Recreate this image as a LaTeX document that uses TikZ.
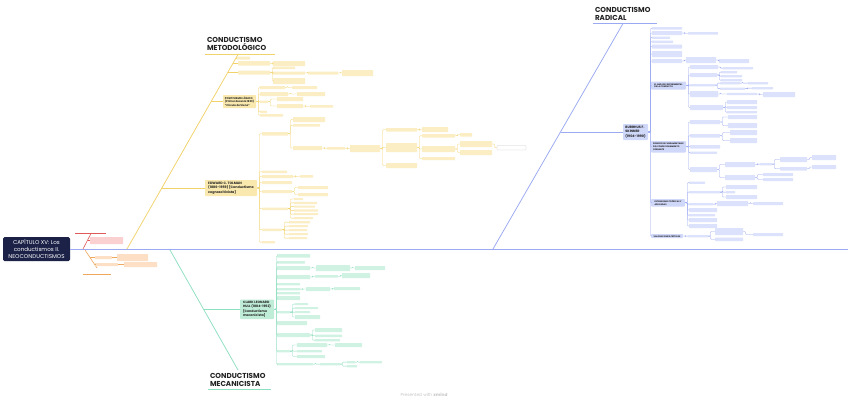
\documentclass[tikz,border=0pt]{standalone}
\usepackage{fontspec}
\setmainfont{Poppins}
\definecolor{navy}{HTML}{1C2147}
\definecolor{bline}{HTML}{9AA9F2}
\definecolor{bfill}{HTML}{DCE2FB}
\definecolor{bfill2}{HTML}{D0D8FA}
\definecolor{yline}{HTML}{F2D26A}
\definecolor{yfill}{HTML}{FBEEC4}
\definecolor{yfill2}{HTML}{FAE9AE}
\definecolor{tline}{HTML}{8EDFC0}
\definecolor{tfill}{HTML}{D0F2E3}
\definecolor{tfill2}{HTML}{C0EDD8}
\definecolor{rline}{HTML}{E05A5A}
\definecolor{rfill}{HTML}{FAD0D0}
\definecolor{oline}{HTML}{F0A85E}
\definecolor{ofill}{HTML}{FCDFC4}
\definecolor{ink}{HTML}{222222}
\tikzset{
 bxs/.style={rectangle,inner sep=0pt,outer sep=0pt,rounded corners=0.5pt},
 yl/.style={bxs,fill=yfill},
 tl/.style={bxs,fill=tfill},
 bl/.style={bxs,fill=bfill},
 wl/.style={bxs,fill=white,draw=gray!40,line width=0.2pt},
 pkl/.style={bxs,fill=rfill},
 orl/.style={bxs,fill=ofill},
 topic/.style={bxs,rounded corners=0.8pt,align=left,text=ink,font=\bfseries\fontsize{3.3}{4.3}\selectfont},
 ytop/.style={topic,fill=yfill2},
 ttop/.style={topic,fill=tfill2},
 btop/.style={topic,fill=bfill2},
 bsub/.style={topic,fill=bfill2,font=\bfseries\fontsize{2.1}{2.8}\selectfont},
 ttl/.style={inner sep=0pt,outer sep=0pt,anchor=north west,align=left,text=ink,font=\bfseries\fontsize{7.2}{8}\selectfont},
 rootbox/.style={rectangle,inner sep=0pt,outer sep=0pt,rounded corners=1.5pt,fill=navy,text=white,align=center,font=\fontsize{5.6}{6.8}\selectfont},
 ylk/.style={draw=yline,line width=0.4pt,rounded corners=0.8pt},
 tlk/.style={draw=tline,line width=0.4pt,rounded corners=0.8pt},
 blk/.style={draw=bline,line width=0.4pt,rounded corners=0.8pt},
 rlk/.style={draw=rline,line width=0.4pt},
 olk/.style={draw=oline,line width=0.4pt},
 ymain/.style={draw=yline,line width=0.75pt},
 tmain/.style={draw=tline,line width=0.75pt},
 bmain/.style={draw=bline,line width=0.75pt},
 rmain/.style={draw=rline,line width=0.6pt},
 omain/.style={draw=oline,line width=0.6pt},
 yul/.style={draw=yline,line width=1.1pt},
 tul/.style={draw=tline,line width=1.1pt},
 bul/.style={draw=bline,line width=1.1pt},
 rul/.style={draw=rline,line width=0.9pt},
 oul/.style={draw=oline,line width=0.9pt}
}
\newcommand\mbx[6]{\node[#1,minimum width={(#5-#3)*1pt},minimum height={(#6-#4)*1pt}] (#2) at ({(#3+#5)/2},{(#4+#6)/2}) {};}
\newcommand\mtx[7]{\node[#1,minimum width={(#5-#3)*1pt},minimum height={(#6-#4)*1pt}] (#2) at ({(#3+#5)/2},{(#4+#6)/2}) {#7};}
\newcommand\mlks[3]{\foreach \cc in {#3}{\draw[#1] (#2.east) -- ++(2.5,0) |- (\cc.west);}}
\begin{document}
\begin{tikzpicture}[x=1pt,y=-1pt]
\fill[white] (0,0) rectangle (848,405);
\useasboundingbox (0,0) rectangle (848,405);

% ---------- root ----------
\mtx{rootbox}{root}{3}{237}{70}{261}{CAPÍTULO XV: Los\\conductismos II.\\NEOCONDUCTISMOS}
\coordinate (bEnd) at (848,249);
\draw[bmain] (root.east) -- (bEnd);

% ---------- red / orange ----------
\coordinate (rS) at (83,249); \coordinate (rE) at (91,233.5);
\draw[rmain] (rS) -- (rE);
\coordinate (rU1) at (75,233.5); \coordinate (rU2) at (106,233.5);
\draw[rul] (rU1) -- (rU2);
\mbx{pkl}{pink}{90}{237}{123}{244}
\coordinate (rH) at (87.7,240.5);
\draw[rlk] (rH) -- (pink.west);

\coordinate (oS) at (85,250); \coordinate (oE) at (97,268);
\draw[omain] (oS) -- (oE);
\coordinate (oU1) at (83,274); \coordinate (oU2) at (111,274);
\draw[oul] (oU1) -- (oU2);
\mbx{orl}{oa}{95}{256}{112}{259}
\mbx{orl}{oaa}{117}{254}{148}{261}
\mbx{orl}{ob}{95}{263}{118}{266}
\mbx{orl}{oba}{124}{262}{157}{267}
\coordinate (oH1) at (90,257.5); \coordinate (oH2) at (94.5,264.5);
\draw[olk] (oH1) -- (oa.west); \draw[olk] (oH2) -- (ob.west);
\mlks{olk}{oa}{oaa}
\mlks{olk}{ob}{oba}

% ---------- yellow: CONDUCTISMO METODOLOGICO ----------
\coordinate (yS) at (127,249); \coordinate (yE) at (238,54.5);
\draw[ymain] (yS) -- (yE);
\node[ttl] (tMet) at (207,37) {CONDUCTISMO\\METODOLÓGICO};
\coordinate (yU1) at (205,54.5); \coordinate (yU2) at (275,54.5);
\draw[yul] (yU1) -- (yU2);

\mbx{yl}{ya}{237}{56.5}{250}{59.5}
\mbx{yl}{yb}{238}{61}{270}{65.5}
\mbx{yl}{yc}{273}{61}{305}{66}
\mbx{yl}{yd}{238}{70.5}{270}{74.5}
\mbx{yl}{ye}{273}{66.5}{295}{69}
\mbx{yl}{yf}{273}{71.5}{305}{74.5}
\mbx{yl}{yg}{308}{71.5}{338}{74.5}
\mbx{yl}{yh}{342}{70}{373}{76}
\mbx{yl}{yi}{273}{78}{305}{84}
\coordinate (yHa) at (236.3,58); \coordinate (yHb) at (233.3,63.25); \coordinate (yHd) at (228,72.5);
\draw[ylk] (yHa) -- (ya.west); \draw[ylk] (yHb) -- (yb.west); \draw[ylk] (yHd) -- (yd.west);
\mlks{ylk}{yb}{yc}
\mlks{ylk}{yd}{ye,yf,yi}
\mlks{ylk}{yf}{yg}
\mlks{ylk}{yg}{yh}

\mtx{ytop,font=\bfseries\fontsize{2.6}{3.3}\selectfont}{pos}{223}{95}{256}{108}{POSITIVISMO LÓGICO\\(Primer decenio 1930)\\“Círculo de Viena”}
\coordinate (yHp) at (211.4,101.5);
\draw[ylk] (yHp) -- (pos.west);
\mbx{yl}{pk}{260}{86}{285}{89}
\mbx{yl}{pl}{292}{86}{317}{89}
\mbx{yl}{pm}{260}{92}{288}{96}
\mbx{yl}{pn}{297}{92}{325}{96}
\mbx{yl}{po}{260}{100.5}{268}{103}
\mbx{yl}{pp}{277}{97}{303}{101}
\mbx{yl}{pq}{277}{104}{303}{108}
\mbx{yl}{pr}{310}{105}{333}{107.5}
\mbx{yl}{ps}{260}{110.5}{267}{113}
\mbx{yl}{pt}{260}{114}{283}{116.5}
\mlks{ylk}{pos}{pk,pm,po,ps,pt}
\mlks{ylk}{pk}{pl}
\mlks{ylk}{pm}{pn}
\mlks{ylk}{po}{pp,pq}
\mlks{ylk}{pq}{pr}

\mtx{ytop}{tol}{205}{180}{257}{196}{EDWARD C. TOLMAN\\(1886-1959) [Conductismo\\cognoscitivista]}
\coordinate (yHt) at (161.9,188);
\draw[ylk] (yHt) -- (tol.west);
\mbx{yl}{t0}{262}{132}{288}{135.5}
\mbx{yl}{t0a}{293}{117}{325}{122}
\mbx{yl}{t0b}{293}{124}{320}{126.5}
\mbx{yl}{t0c}{293}{146}{322}{150}
\mbx{yl}{t0d}{327}{147}{345}{149.5}
\mbx{yl}{t0e}{350}{145}{380}{152}
\mbx{yl}{t0f}{386}{128}{417}{131.5}
\mbx{yl}{t0g}{422}{127}{448}{132}
\mbx{yl}{t0h}{386}{143}{417}{152}
\mbx{yl}{t0i}{422}{134}{455}{137.5}
\mbx{yl}{t0j}{460}{133}{472}{136.5}
\mbx{yl}{t0k}{422}{146}{455}{152}
\mbx{yl}{t0l}{460}{141}{492}{147}
\mbx{wl}{t0w}{497}{145.5}{526}{150}
\mbx{yl}{t0m}{460}{150}{492}{155}
\mbx{yl}{t0n}{422}{157}{455}{160}
\mbx{yl}{t0o}{386}{163}{417}{168}
\mbx{yl}{t1}{262}{170.5}{287}{173}
\mbx{yl}{t2}{262}{175}{293}{178}
\mbx{yl}{t2a}{300}{175}{313}{177.5}
\mbx{yl}{t3}{262}{181}{292}{184}
\mbx{yl}{t4}{262}{190}{292}{193}
\mbx{yl}{t4a}{298}{186}{328}{189}
\mbx{yl}{t4b}{298}{193}{328}{196}
\mbx{yl}{t5}{262}{207.5}{288}{210}
\mbx{yl}{t5a}{294}{198}{303}{200}
\mbx{yl}{t5b}{294}{201.8}{317}{204}
\mbx{yl}{t5c}{294}{205.5}{315}{207.7}
\mbx{yl}{t5d}{294}{209.3}{318}{211.5}
\mbx{yl}{t5e}{294}{213}{318}{215.2}
\mbx{yl}{t5f}{294}{217}{313}{219.2}
\mbx{yl}{t6}{262}{228.5}{282}{231}
\mbx{yl}{t6a}{289}{221}{310}{223.3}
\mbx{yl}{t6b}{289}{225}{308}{227.2}
\mbx{yl}{t6c}{289}{229}{307}{231.2}
\mbx{yl}{t6d}{289}{233}{308}{235.2}
\mbx{yl}{t6e}{289}{237}{307}{239.2}
\mbx{yl}{t7}{262}{241}{275}{243.3}
\mlks{ylk}{tol}{t0,t1,t2,t3,t4,t5,t6,t7}
\mlks{ylk}{t0}{t0a,t0b,t0c}
\mlks{ylk}{t0c}{t0d}
\mlks{ylk}{t0d}{t0e}
\mlks{ylk}{t0e}{t0f,t0h,t0o}
\mlks{ylk}{t0f}{t0g}
\mlks{ylk}{t0h}{t0i,t0k,t0n}
\mlks{ylk}{t0i}{t0j}
\mlks{ylk}{t0k}{t0l,t0m}
\mlks{ylk}{t0l}{t0w}
\mlks{ylk}{t2}{t2a}
\mlks{ylk}{t4}{t4a,t4b}
\mlks{ylk}{t5}{t5a,t5b,t5c,t5d,t5e,t5f}
\mlks{ylk}{t6}{t6a,t6b,t6c,t6d,t6e}

% ---------- teal: CONDUCTISMO MECANICISTA ----------
\coordinate (tS) at (170,250); \coordinate (tE) at (238,370);
\draw[tmain] (tS) -- (tE);
\node[ttl] (tMec) at (210,373) {CONDUCTISMO\\MECANICISTA};
\coordinate (tU1) at (208,389.5); \coordinate (tU2) at (271,389.5);
\draw[tul] (tU1) -- (tU2);

\mtx{ttop,font=\bfseries\fontsize{3.2}{4.2}\selectfont}{hull}{240}{299.5}{274}{319}{CLARK LEONARD\\HULL (1884-1952)\\{[}Conductismo\\mecanicista]}
\coordinate (tHh) at (203.6,309.25);
\draw[tlk] (tHh) -- (hull.west);
\mbx{tl}{h1}{277}{254}{310}{257.5}
\mbx{tl}{h2}{277}{261}{305}{263.5}
\mbx{tl}{h3}{277}{266}{310}{270}
\mbx{tl}{h3a}{316}{265}{350}{271}
\mbx{tl}{h3b}{355}{266}{385}{270}
\mbx{tl}{h4}{277}{275}{310}{279}
\mbx{tl}{h4a}{315}{275}{338}{277.5}
\mbx{tl}{h4b}{342}{273}{370}{278}
\mbx{tl}{h5}{277}{283}{300}{285.3}
\mbx{tl}{h6}{277}{288}{300}{290.3}
\mbx{tl}{h6a}{306}{287}{330}{291}
\mbx{tl}{h6b}{334}{287}{360}{290}
\mbx{tl}{h7}{277}{292}{300}{294.3}
\mbx{tl}{h8}{277}{296}{300}{300}
\mbx{tl}{h9}{277}{311}{290}{313.3}
\mbx{tl}{h9a}{295}{303}{308}{305.2}
\mbx{tl}{h9b}{295}{307}{318}{309.2}
\mbx{tl}{h9c}{295}{311}{310}{313.2}
\mbx{tl}{h9d}{295}{315}{320}{319}
\mbx{tl}{h10}{277}{321}{307}{325}
\mbx{tl}{h11}{277}{333}{310}{337}
\mbx{tl}{h11a}{315}{328}{342}{332}
\mbx{tl}{h11b}{315}{334.5}{342}{337}
\mbx{tl}{h11c}{315}{339}{340}{341.3}
\mbx{tl}{h12}{277}{350}{290}{352.3}
\mbx{tl}{h12a}{297}{343}{327}{347}
\mbx{tl}{h12b}{335}{343}{362}{347}
\mbx{tl}{h12c}{297}{350}{322}{352.3}
\mbx{tl}{h12d}{297}{355}{325}{358}
\mbx{tl}{h13}{277}{363}{313}{365.3}
\mbx{tl}{h13a}{320}{363}{340}{365.3}
\mbx{tl}{h13b}{347}{361}{355}{363.3}
\mbx{tl}{h13c}{360}{361}{382}{363.3}
\mbx{tl}{h13d}{347}{365}{357}{367.3}
\mlks{tlk}{hull}{h1,h2,h3,h4,h5,h6,h7,h8,h9,h10,h11,h12,h13}
\mlks{tlk}{h3}{h3a}
\mlks{tlk}{h3a}{h3b}
\mlks{tlk}{h4}{h4a}
\mlks{tlk}{h4a}{h4b}
\mlks{tlk}{h6}{h6a}
\mlks{tlk}{h6a}{h6b}
\mlks{tlk}{h9}{h9a,h9b,h9c,h9d}
\mlks{tlk}{h11}{h11a,h11b,h11c}
\mlks{tlk}{h12}{h12a,h12c,h12d}
\mlks{tlk}{h12a}{h12b}
\mlks{tlk}{h13}{h13a}
\mlks{tlk}{h13a}{h13b,h13d}
\mlks{tlk}{h13b}{h13c}

% ---------- blue: CONDUCTISMO RADICAL ----------
\coordinate (bS) at (493,249); \coordinate (bE) at (623,23.5);
\draw[bmain] (bS) -- (bE);
\node[ttl] (tRad) at (595,7) {CONDUCTISMO\\RADICAL};
\coordinate (bU1) at (593,23.5); \coordinate (bU2) at (657,23.5);
\draw[bul] (bU1) -- (bU2);

\mtx{btop,font=\bfseries\fontsize{3.3}{4.4}\selectfont}{skin}{623}{124}{648}{140}{BURRHUS F.\\SKINNER\\(1904-1990)}
\coordinate (bHs) at (560.6,132);
\draw[blk] (bHs) -- (skin.west);
\mbx{bl}{s1}{652}{27}{682}{29.5}
\mbx{bl}{s2}{652}{31}{682}{35}
\mbx{bl}{s2a}{688}{32}{718}{34.5}
\mbx{bl}{s3}{652}{36.5}{670}{38.8}
\mbx{bl}{s4}{652}{40.5}{673}{43}
\mbx{bl}{s5}{652}{44.5}{682}{48.5}
\mbx{bl}{s6}{652}{51}{682}{57}
\mbx{bl}{s7}{652}{59}{682}{63}
\mbx{bl}{s7a}{686}{57}{716}{63}
\mbx{bl}{s7b}{719}{59}{749}{63}
\mtx{bsub}{sa}{651}{81.5}{686}{89.5}{EL ANÁLISIS EXPERIMENTAL\\DE LA CONDUCTA}
\mbx{bl}{sa1}{690}{65}{718}{69}
\mbx{bl}{sa1a}{723}{67}{753}{69.3}
\mbx{bl}{sa2}{690}{73}{717}{77}
\mbx{bl}{sa2a}{721}{71}{737}{73.3}
\mbx{bl}{sa2b}{721}{75}{742}{77.3}
\mbx{bl}{sa2c}{721}{79}{742}{81.3}
\mbx{bl}{sa3}{690}{84}{715}{86.3}
\mbx{bl}{sa3a}{720}{82}{740}{84.3}
\mbx{bl}{sa3b}{748}{82}{768}{84.3}
\mbx{bl}{sa3c}{720}{87.5}{745}{89.8}
\mbx{bl}{sa3d}{752}{87}{773}{89.3}
\mbx{bl}{sa4}{690}{91}{718}{97}
\mbx{bl}{sa4a}{727}{92.8}{757}{95.2}
\mbx{bl}{sa4b}{763}{92}{795}{97}
\mbx{bl}{sa5}{690}{105}{723}{110}
\mbx{bl}{sa5a}{727}{100}{757}{104}
\mbx{bl}{sa5b}{727}{106}{757}{109}
\mbx{bl}{sa5c}{727}{111}{757}{113.3}
\mtx{bsub}{sp}{651}{141}{686}{152.5}{PRINCIPIOS FUNDAMENTALES\\DEL CONDICIONAMIENTO\\OPERANTE}
\mbx{bl}{sp1}{690}{120}{720}{124}
\mbx{bl}{sp1a}{728}{115}{757}{119}
\mbx{bl}{sp1b}{728}{123}{757}{128}
\mbx{bl}{sp2}{690}{134}{720}{137.5}
\mbx{bl}{sp2a}{730}{130}{757}{135}
\mbx{bl}{sp2b}{730}{138}{757}{143}
\mbx{bl}{sp3}{690}{145}{720}{148.5}
\mbx{bl}{sp4}{690}{151.5}{717}{153.8}
\mbx{bl}{sp5}{690}{167}{717}{172}
\mbx{bl}{sp5a}{725}{162}{755}{167}
\mbx{bl}{sp5b}{760}{163}{772}{165.3}
\mbx{bl}{sp5c}{780}{157}{807}{162}
\mbx{bl}{sp5d}{812}{155}{836}{160}
\mbx{bl}{sp5e}{780}{167}{807}{170.5}
\mbx{bl}{sp5f}{812}{165}{836}{169}
\mbx{bl}{sp5g}{725}{175}{755}{180}
\mbx{bl}{sp5h}{763}{173}{793}{176}
\mbx{bl}{sp5i}{763}{178}{793}{181}
\mtx{bsub}{se}{651}{199}{685}{206.5}{EXTENSIONES TEÓRICAS Y\\APLICADAS}
\mbx{bl}{se1}{689}{181.5}{705}{183.8}
\mbx{bl}{se2}{689}{191}{720}{193.3}
\mbx{bl}{se2a}{726}{185}{757}{189}
\mbx{bl}{se2b}{726}{191}{735}{193.3}
\mbx{bl}{se2c}{726}{195}{757}{199}
\mbx{bl}{se3}{689}{203}{713}{205.3}
\mbx{bl}{se3a}{717}{201}{748}{206}
\mbx{bl}{se3b}{753}{202}{783}{205}
\mbx{bl}{se4}{689}{208}{717}{212}
\mbx{bl}{se5}{689}{214}{715}{216.3}
\mbx{bl}{se6}{689}{218}{717}{222}
\mbx{bl}{se7}{689}{224}{717}{228}
\mtx{bsub}{sv}{651}{234}{683}{238}{VALORACIONES CRÍTICAS}
\mbx{bl}{sv1}{688}{235}{708}{237.3}
\mbx{bl}{sv1a}{715}{228}{743}{235}
\mbx{bl}{sv1b}{753}{233}{783}{236}
\mbx{bl}{sv1c}{715}{237.5}{743}{241}
\mlks{blk}{skin}{s1,s2,s3,s4,s5,s6,s7,sa,sp,se,sv}
\mlks{blk}{s2}{s2a}
\mlks{blk}{s7}{s7a}
\mlks{blk}{s7a}{s7b}
\mlks{blk}{sa}{sa1,sa2,sa3,sa4,sa5}
\mlks{blk}{sa1}{sa1a}
\mlks{blk}{sa2}{sa2a,sa2b,sa2c}
\mlks{blk}{sa3}{sa3a,sa3c}
\mlks{blk}{sa3a}{sa3b}
\mlks{blk}{sa3c}{sa3d}
\mlks{blk}{sa4}{sa4a}
\mlks{blk}{sa4a}{sa4b}
\mlks{blk}{sa5}{sa5a,sa5b,sa5c}
\mlks{blk}{sp}{sp1,sp2,sp3,sp4,sp5}
\mlks{blk}{sp1}{sp1a,sp1b}
\mlks{blk}{sp2}{sp2a,sp2b}
\mlks{blk}{sp5}{sp5a,sp5g}
\mlks{blk}{sp5a}{sp5b}
\mlks{blk}{sp5b}{sp5c,sp5e}
\mlks{blk}{sp5c}{sp5d}
\mlks{blk}{sp5e}{sp5f}
\mlks{blk}{sp5g}{sp5h,sp5i}
\mlks{blk}{se}{se1,se2,se3,se4,se5,se6,se7}
\mlks{blk}{se2}{se2a,se2b,se2c}
\mlks{blk}{se3}{se3a}
\mlks{blk}{se3a}{se3b}
\mlks{blk}{sv}{sv1}
\mlks{blk}{sv1}{sv1a,sv1c}
\mlks{blk}{sv1a}{sv1b}

% ---------- footer ----------
\node[text=gray!45,inner sep=0pt,font=\fontsize{4.3}{5}\selectfont] (pw) at (424,395) {Presented with \textbf{xmind}};
\end{tikzpicture}
\end{document}
